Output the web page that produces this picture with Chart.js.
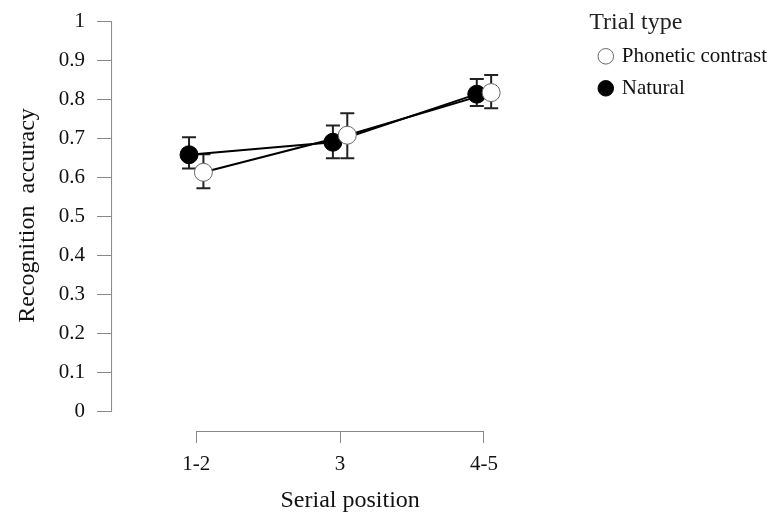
<!DOCTYPE html>
<html lang="en">
<head>
    <meta charset="UTF-8">
    <title>Recognition accuracy by serial position</title>
    <script src="https://cdn.jsdelivr.net/npm/chart.js@4/dist/chart.umd.min.js"></script>
    <style>
        html, body { margin: 0; padding: 0; background: #fff; }
        #wrap { width: 777px; height: 515px; }
    </style>
</head>
<body>
    <div id="wrap"><canvas id="chart"></canvas></div>
    <script>
        // values
        const positions = ['1-2', '3', '4-5'];
        const yTicks = [0, 0.1, 0.2, 0.3, 0.4, 0.5, 0.6, 0.7, 0.8, 0.9, 1];

        const phonetic = [0.613, 0.708, 0.817];
        const phoneticLow = [0.572, 0.649, 0.777];
        const phoneticHigh = [0.659, 0.764, 0.862];

        const natural = [0.658, 0.690, 0.813];
        const naturalLow = [0.623, 0.649, 0.783];
        const naturalHigh = [0.703, 0.733, 0.852];

        const dodge = 0.05;   // horizontal shift so the two series don't overlap
        const font = 'Liberation Serif, Times New Roman, serif';

        const toPoints = (vals, shift) => vals.map((v, i) => ({ x: i + shift, y: v }));

        // error bars + detached axis lines
        const extras = {
            id: 'extras',
            beforeDatasetsDraw(chart) {
                const ctx = chart.ctx;
                const xs = chart.scales.x, ys = chart.scales.y;
                const bars = [
                    [naturalLow, naturalHigh, -dodge],
                    [phoneticLow, phoneticHigh, dodge]
                ];
                ctx.save();
                ctx.strokeStyle = '#222';
                ctx.lineWidth = 2;
                bars.forEach(([lo, hi, shift]) => {
                    lo.forEach((l, i) => {
                        const x = xs.getPixelForValue(i + shift);
                        const y1 = ys.getPixelForValue(l);
                        const y2 = ys.getPixelForValue(hi[i]);
                        ctx.beginPath();
                        ctx.moveTo(x, y1); ctx.lineTo(x, y2);
                        ctx.moveTo(x - 7, y1); ctx.lineTo(x + 7, y1);
                        ctx.moveTo(x - 7, y2); ctx.lineTo(x + 7, y2);
                        ctx.stroke();
                    });
                });
                ctx.restore();
            },
            afterDraw(chart) {
                const ctx = chart.ctx;
                const xs = chart.scales.x, ys = chart.scales.y;
                const area = chart.chartArea;
                ctx.save();
                ctx.strokeStyle = '#888';
                ctx.lineWidth = 1;
                ctx.beginPath();
                ctx.moveTo(area.left + 0.5, ys.getPixelForValue(0));
                ctx.lineTo(area.left + 0.5, ys.getPixelForValue(1));
                ctx.moveTo(xs.getPixelForValue(0), area.bottom + 0.5);
                ctx.lineTo(xs.getPixelForValue(positions.length - 1), area.bottom + 0.5);
                ctx.stroke();
                ctx.restore();
            }
        };

        new Chart(document.getElementById('chart').getContext('2d'), {
            type: 'line',
            data: {
                datasets: [{
                    label: 'Phonetic contrast',
                    data: toPoints(phonetic, dodge),
                    borderColor: '#000',
                    borderWidth: 2,
                    pointRadius: 9,
                    pointBackgroundColor: '#fff',
                    pointBorderColor: '#666',
                    pointBorderWidth: 1
                }, {
                    label: 'Natural',
                    data: toPoints(natural, -dodge),
                    borderColor: '#000',
                    borderWidth: 2,
                    pointRadius: 9,
                    pointBackgroundColor: '#000',
                    pointBorderColor: '#000',
                    pointBorderWidth: 1
                }]
            },
            options: {
                responsive: true,
                maintainAspectRatio: false,
                animation: false,
                layout: { autoPadding: false, padding: { top: 0, left: 13, right: 0, bottom: 0 } },
                plugins: {
                    tooltip: { enabled: false },
                    legend: {
                        position: 'right',
                        align: 'start',
                        title: {
                            display: true,
                            text: 'Trial type',
                            position: 'start',
                            color: '#222',
                            font: { family: font, size: 24 },
                            padding: { top: 11, bottom: -5 }
                        },
                        labels: {
                            usePointStyle: true,
                            boxWidth: 11,
                            boxHeight: 11,
                            padding: 11,
                            color: '#111',
                            font: { family: font, size: 21 }
                        }
                    }
                },
                scales: {
                    x: {
                        type: 'linear',
                        min: -0.592,
                        max: 2.732,
                        afterBuildTicks: axis => { axis.ticks = positions.map((p, i) => ({ value: i })); },
                        ticks: {
                            callback: v => positions[v],
                            color: '#111',
                            padding: 9,
                            font: { family: font, size: 21 }
                        },
                        grid: { drawOnChartArea: false, tickLength: 12, color: '#888' },
                        border: { display: false },
                        title: {
                            display: true,
                            text: 'Serial position',
                            color: '#111',
                            padding: { top: 0, bottom: 0 },
                            font: { family: font, size: 24 }
                        }
                    },
                    y: {
                        min: -0.049,
                        max: 1.054,
                        afterBuildTicks: axis => { axis.ticks = yTicks.map(v => ({ value: v })); },
                        afterFit: axis => { axis.paddingTop = 0; },
                        ticks: {
                            callback: v => String(v),
                            color: '#111',
                            padding: 12,
                            font: { family: font, size: 21 }
                        },
                        grid: { drawOnChartArea: false, tickLength: 14, color: '#888' },
                        border: { display: false },
                        title: {
                            display: true,
                            text: 'Recognition  accuracy',
                            color: '#111',
                            padding: { top: 0, bottom: 5 },
                            font: { family: font, size: 24 }
                        }
                    }
                }
            },
            plugins: [extras]
        });
    </script>
</body>
</html>
